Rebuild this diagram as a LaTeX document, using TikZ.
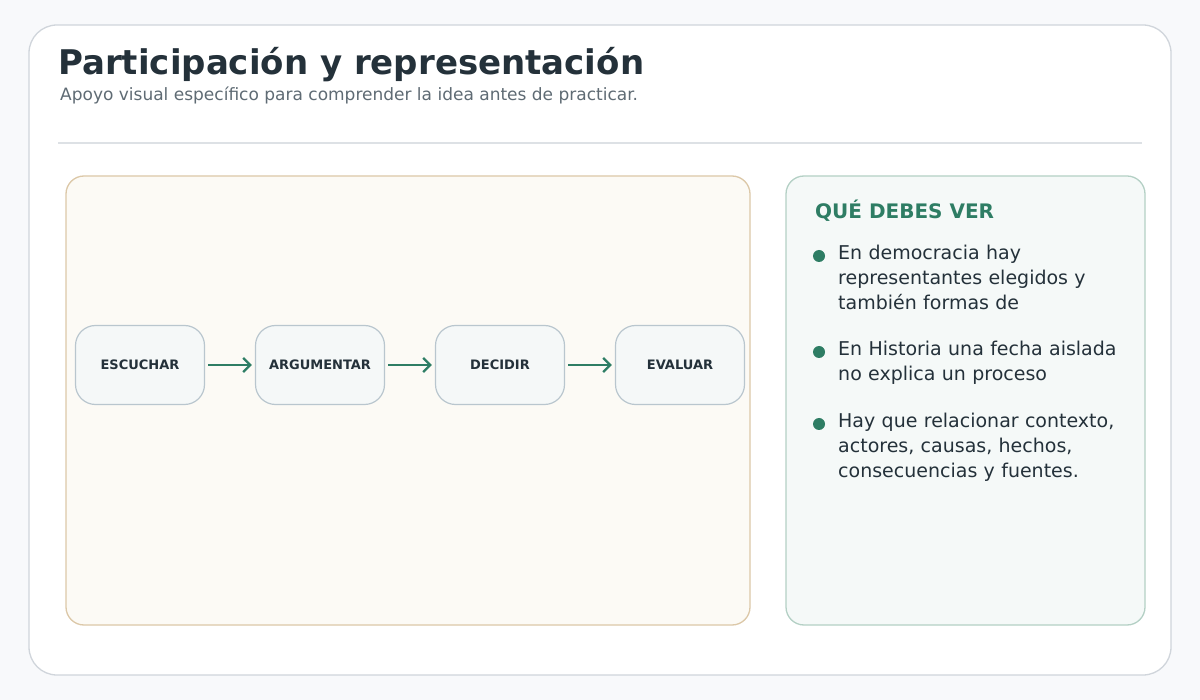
\documentclass[tikz,border=0pt]{standalone}
\usepackage{fontspec}
\setmainfont{DejaVu Sans}
\usetikzlibrary{arrows.meta,positioning}
\definecolor{ink}{HTML}{24313A}
\definecolor{muted}{HTML}{5F6B74}
\definecolor{teal}{HTML}{2E7D64}
\definecolor{stageline}{HTML}{B9C6CE}
\definecolor{stagefill}{HTML}{F5F8F8}
\tikzset{
  stage/.style={draw=stageline,fill=stagefill,rounded corners=20pt,line width=1.2pt,
    minimum width=129pt,minimum height=79pt,font=\fontsize{13}{15}\selectfont\bfseries,text=ink},
  flow/.style={draw=teal,line width=2.6pt,-{Straight Barb[length=7pt,width=14pt,line width=2.4pt]}},
  bullet/.style={circle,fill=teal,inner sep=0pt,minimum size=12pt},
  point/.style={anchor=north west,align=left,text width=320pt,text=ink,
    font=\fontsize{19}{25}\selectfont,inner sep=0pt}
}
\begin{document}
\begin{tikzpicture}[x=1pt,y=-1pt]
  \fill[fill={rgb,255:red,248;green,249;blue,251}] (0,0) rectangle (1200,700);
  \useasboundingbox (0,0) rectangle (1200,700);
  \draw[draw={rgb,255:red,208;green,213;blue,219},fill=white,line width=1.3pt,rounded corners=28pt] (29,25) rectangle (1171,675);
  \node[anchor=base west,inner sep=0pt,text=ink,font=\fontsize{34}{38}\selectfont\bfseries] (title) at (58,75) {Participación y representación};
  \node[anchor=base west,inner sep=0pt,text=muted,font=\fontsize{17}{20}\selectfont] (sub) at (60,101) {Apoyo visual específico para comprender la idea antes de practicar.};
  \draw[draw={rgb,255:red,221;green,225;blue,229},line width=1.3pt] (58,143) -- (1142,143);
  % panels
  \draw[draw={rgb,255:red,220;green,200;blue,168},fill={rgb,255:red,252;green,250;blue,245},line width=1.3pt,rounded corners=18pt] (66,176) rectangle (750,625);
  \draw[draw={rgb,255:red,180;green,208;blue,197},fill={rgb,255:red,245;green,249;blue,248},line width=1.3pt,rounded corners=18pt] (786,176) rectangle (1145,625);
  % steps
  \node[stage] (esc) at (140,365) {ESCUCHAR};
  \node[stage] (arg) at (320,365) {ARGUMENTAR};
  \node[stage] (dec) at (500,365) {DECIDIR};
  \node[stage] (eva) at (680,365) {EVALUAR};
  \draw[flow] ([xshift=3pt]esc.east) -- ([xshift=-3pt]arg.west);
  \draw[flow] ([xshift=3pt]arg.east) -- ([xshift=-3pt]dec.west);
  \draw[flow] ([xshift=3pt]dec.east) -- ([xshift=-3pt]eva.west);
  % what to see
  \node[anchor=base west,inner sep=0pt,text=teal,font=\fontsize{20}{24}\selectfont\bfseries] (head) at (815,219) {QUÉ DEBES VER};
  \node[bullet] (b1) at (819,256) {};
  \node[bullet] (b2) at (819,352) {};
  \node[bullet] (b3) at (819,424) {};
  \node[point] (p1) at (838,245) {En democracia hay\\representantes elegidos y\\también formas de};
  \node[point] (p2) at (838,341) {En Historia una fecha aislada\\no explica un proceso};
  \node[point] (p3) at (838,413) {Hay que relacionar contexto,\\actores, causas, hechos,\\consecuencias y fuentes.};
\end{tikzpicture}
\end{document}
